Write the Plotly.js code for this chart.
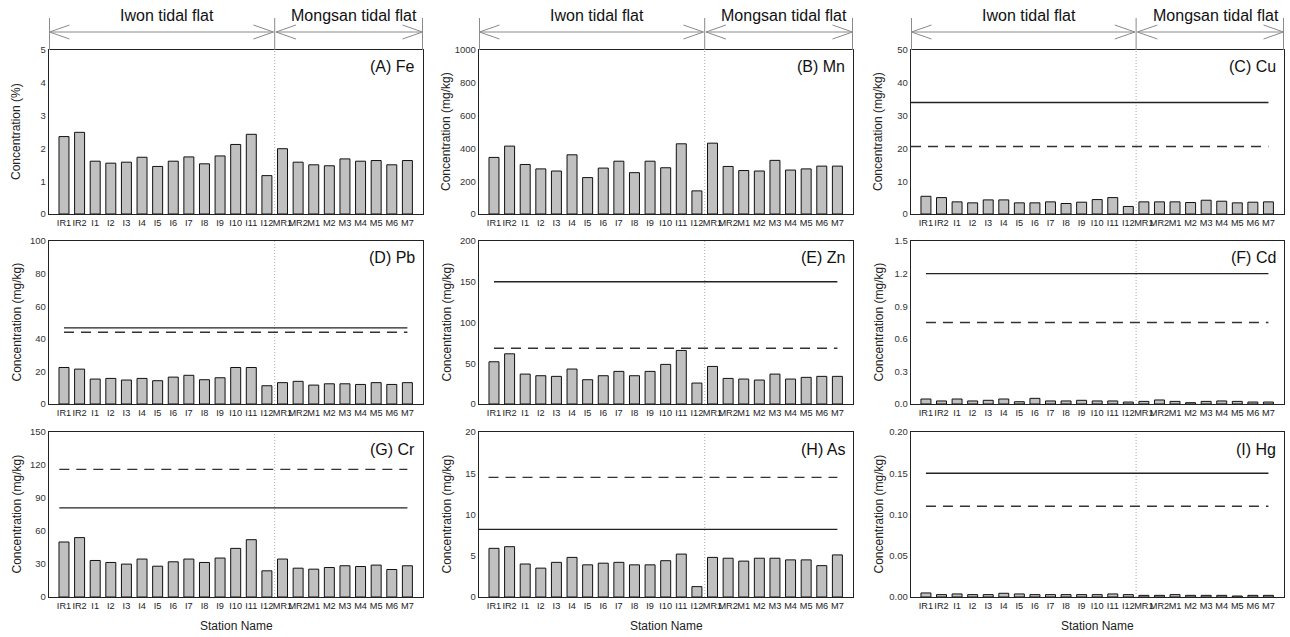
<!DOCTYPE html>
<html><head><meta charset="utf-8">
<script src="https://cdn.plot.ly/plotly-3.0.1.min.js"></script>
<style>html,body{margin:0;padding:0;background:#fff}#chart{width:1290px;height:637px}</style>
</head><body><div id="chart"></div>
<script>
// ---- data ----
const stations = ['IR1','IR2','I1','I2','I3','I4','I5','I6','I7','I8','I9','I10','I11','I12','MR1','MR2','M1','M2','M3','M4','M5','M6','M7'];
const fe = [2.36,2.49,1.61,1.55,1.58,1.73,1.45,1.61,1.74,1.53,1.77,2.12,2.43,1.17,1.99,1.58,1.50,1.47,1.68,1.61,1.63,1.50,1.63];
const mn = [345,414,302,275,262,361,222,280,322,252,322,282,428,141,432,290,265,262,327,268,275,292,292];
const cu = [5.4,5.0,3.7,3.4,4.3,4.3,3.4,3.4,3.7,3.2,3.6,4.4,5.0,2.3,3.7,3.7,3.7,3.5,4.2,3.9,3.4,3.6,3.7];
const pb = [22.4,21.4,15.3,15.7,14.7,15.7,14.3,16.5,17.6,14.9,16.1,22.4,22.4,11.2,13.1,13.9,11.6,12.4,12.4,12.0,13.1,12.0,13.1];
const zn = [51.8,61.6,36.7,34.7,33.9,42.9,29.8,34.7,40.0,34.7,40.0,48.6,65.7,25.7,46.1,31.4,30.6,29.4,36.7,30.6,32.7,33.9,33.9];
const cd = [0.046,0.028,0.046,0.028,0.034,0.046,0.021,0.052,0.028,0.028,0.034,0.028,0.028,0.018,0.024,0.037,0.024,0.012,0.024,0.028,0.024,0.018,0.018];
const cr = [50.0,54.0,33.2,31.4,29.9,34.5,28.0,32.0,34.5,31.4,35.4,44.2,52.1,23.8,34.5,26.2,25.3,26.8,28.4,27.7,29.0,25.0,28.4];
const as_ = [5.9,6.1,4.0,3.5,4.2,4.8,3.9,4.1,4.2,3.9,3.9,4.4,5.2,1.26,4.8,4.7,4.35,4.7,4.7,4.5,4.5,3.8,5.1];
const hg = [0.0049,0.0029,0.0037,0.0029,0.0029,0.0045,0.0037,0.0029,0.0029,0.0029,0.0029,0.0029,0.0037,0.0029,0.0020,0.0020,0.0029,0.0020,0.0020,0.0020,0.0012,0.0020,0.0020];
// guideline values: solid = ERL, dashed = TEL
const erl = {cu:34, pb:46.7, zn:150, cd:1.2, cr:81, as:8.2, hg:0.15};
const tel = {cu:20.6, pb:44.0, zn:68.4, cd:0.75, cr:116, as:14.5, hg:0.11};
const panelLabels = ['(A) Fe','(B) Mn','(C) Cu','(D) Pb','(E) Zn','(F) Cd','(G) Cr','(H) As','(I) Hg'];
const yTitles = ['Concentration (%)','Concentration (mg/kg)','Concentration (mg/kg)','Concentration (mg/kg)','Concentration (mg/kg)','Concentration (mg/kg)','Concentration (mg/kg)','Concentration (mg/kg)','Concentration (mg/kg)'];
const regionLabels = ['Iwon tidal flat','Mongsan tidal flat'];
const xAxisTitle = 'Station Name';

// ---- panel configuration ----
const panels = [
  {v:fe, max:5, dt:1, fmt:''},
  {v:mn, max:1000, dt:200, fmt:''},
  {v:cu, max:50, dt:10, fmt:'', erl:erl.cu, tel:tel.cu, s1:-0.96, s2:-0.96},
  {v:pb, max:100, dt:20, fmt:'', erl:erl.pb, tel:tel.pb, s1:0, s2:0},
  {v:zn, max:200, dt:50, fmt:'', erl:erl.zn, tel:tel.zn, s1:0, s2:0},
  {v:cd, max:1.5, dt:0.3, fmt:'.1f', erl:erl.cd, tel:tel.cd, s1:0, s2:0},
  {v:cr, max:150, dt:30, fmt:'', erl:erl.cr, tel:tel.cr, s1:-0.3, s2:-0.3},
  {v:as_, max:20, dt:5, fmt:'', erl:erl.as, tel:tel.as, s1:-0.96, s2:-0.35},
  {v:hg, max:0.2, dt:0.05, fmt:'.2f', erl:erl.hg, tel:tel.hg, s1:0, s2:0},
];

const W = 1290, H = 637;
const cols = [[49,423],[479,853],[911,1284]];
const rows = [[50,214],[241,404],[432,597]];
const xRange = [-0.96, 23.0];
const divider = 13.5;
const FONT = '"Liberation Sans", Arial, sans-serif';

const data = [], shapes = [], annotations = [];
const layout = {
  width: W, height: H, margin:{l:0,r:0,t:0,b:0},
  paper_bgcolor:'#fff', plot_bgcolor:'#fff', showlegend:false,
  font:{family:FONT, color:'#333'},
};

panels.forEach((p, i) => {
  const r = Math.floor(i/3), c = i%3;
  const n = i+1, xa = 'x'+(n===1?'':n), ya = 'y'+(n===1?'':n);
  const xk = 'xaxis'+(n===1?'':n), yk = 'yaxis'+(n===1?'':n);
  const [L,R] = cols[c], [T,B] = rows[r];
  layout[xk] = {
    domain:[L/W, R/W], anchor:ya, type:'category', range:xRange,
    showline:true, mirror:true, linecolor:'#222', linewidth:1.3,
    showgrid:false, zeroline:false, ticks:'', fixedrange:true,
    tickfont:{size:9.2, color:'#222', family:FONT}, tickangle:0,
  };
  layout[yk] = {
    domain:[1-B/H, 1-T/H], anchor:xa, range:[0,p.max], dtick:p.dt, tick0:0,
    tickformat:p.fmt, showline:true, mirror:true, linecolor:'#222', linewidth:1.3,
    showgrid:false, zeroline:false, ticks:'', fixedrange:true,
    tickfont:{size:9.5, color:'#333', family:FONT},
  };
  data.push({
    type:'bar', x:stations, y:p.v, xaxis:xa, yaxis:ya,
    marker:{color:'#c0c0c0', line:{color:'#111', width:1}}, width:0.64,
    hoverinfo:'x+y'
  });
  shapes.push({type:'line', xref:xa, yref:ya+' domain', x0:divider, x1:divider, y0:0, y1:1,
    line:{color:'#aaa', width:1, dash:'1px,2px'}});
  if (p.erl !== undefined) {
    shapes.push({type:'line', xref:xa, yref:ya, x0:p.s1, x1:22, y0:p.erl, y1:p.erl,
      line:{color:'#222', width:1.4}});
    shapes.push({type:'line', xref:xa, yref:ya, x0:p.s2, x1:22, y0:p.tel, y1:p.tel,
      line:{color:'#333', width:1.4, dash:'10px,7px'}});
  }
  annotations.push({text:panelLabels[i], xref:xa+' domain', yref:ya+' domain', x:0.985, y:1-17/(B-T),
    xanchor:'right', yanchor:'middle', showarrow:false, font:{size:16, color:'#111', family:FONT}});
  annotations.push({text:yTitles[i], xref:'paper', yref:'paper', x:(L-33)/W, y:1-((T+B)/2)/H,
    xanchor:'center', yanchor:'middle', textangle:-90, showarrow:false, font:{size:12, color:'#222', family:FONT}});
  if (r === 2) {
    annotations.push({text:xAxisTitle, xref:xa+' domain', yref:'paper', x:0.5, y:1-626/H,
      xanchor:'center', yanchor:'middle', showarrow:false, font:{size:12, color:'#222', family:FONT}});
  }
  if (r === 0) {
    const yTop = 1-18/H, yBot = 1-T/H, yA = 1-32/H, ah = 7/H, aw = 20/((R-L)/(xRange[1]-xRange[0]));
    const g = {color:'#8a8a8a', width:1};
    const ln = (x0,y0,x1,y1)=>shapes.push({type:'line', xref:xa, yref:'paper', x0, y0, x1, y1, line:g});
    const a0 = xRange[0]+0.03, a1 = xRange[1]-0.03;
    ln(a0, yTop, a0, yBot); ln(divider, yTop, divider, yBot); ln(a1, yTop, a1, yBot);
    ln(a0, yA, divider-0.08, yA); ln(divider+0.08, yA, a1, yA);
    [[a0,1],[divider-0.08,-1],[divider+0.08,1],[a1,-1]].forEach(([tx,d])=>{
      ln(tx, yA, tx+d*aw, yA+ah); ln(tx, yA, tx+d*aw, yA-ah);
    });
    annotations.push({text:regionLabels[0], xref:xa, yref:'paper', x:6.6, y:1-15/H, xanchor:'center', yanchor:'middle',
      showarrow:false, font:{size:16, color:'#111', family:FONT}});
    annotations.push({text:regionLabels[1], xref:xa, yref:'paper', x:18.6, y:1-15/H, xanchor:'center', yanchor:'middle',
      showarrow:false, font:{size:16, color:'#111', family:FONT}});
  }
});
layout.shapes = shapes;
layout.annotations = annotations;
Plotly.newPlot('chart', data, layout, {displayModeBar:false, staticPlot:true});
</script>
</body></html>
